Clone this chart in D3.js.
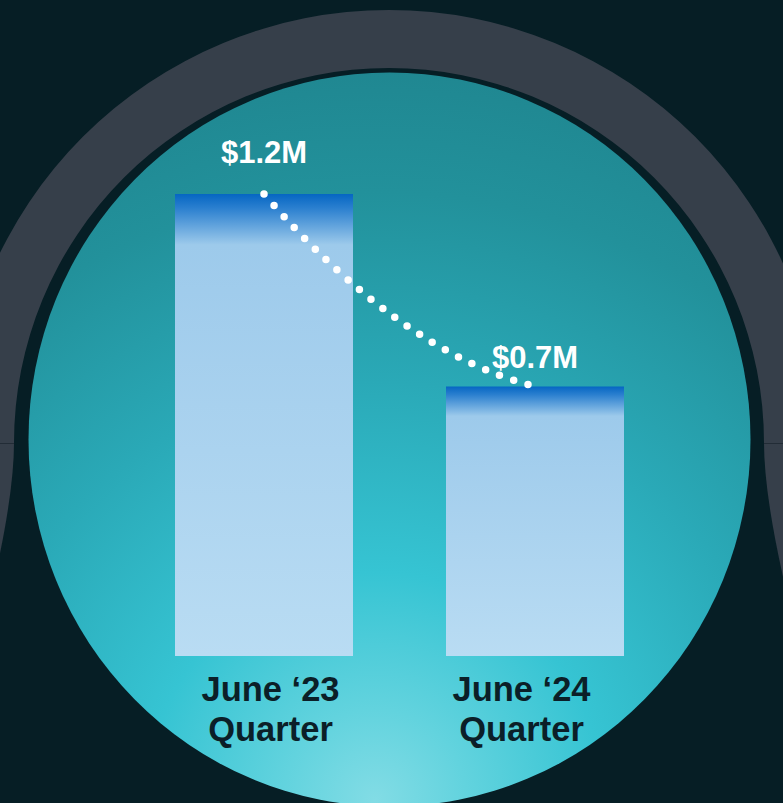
<!DOCTYPE html>
<html>
<head>
<meta charset="utf-8">
<script src="https://cdn.jsdelivr.net/npm/d3@7"></script>
<style>
  html, body { margin: 0; padding: 0; background: #061e25; overflow: hidden; }
  svg { display: block; }
</style>
</head>
<body>
<svg id="chart" width="783" height="803"></svg>
<script>
// Quarterly totals, in millions of dollars
const categories = ["June ‘23 Quarter", "June ‘24 Quarter"];
const categoryLines = [["June ‘23", "Quarter"], ["June ‘24", "Quarter"]];
const values = [1.2, 0.7];
const valueLabels = ["$1.2M", "$0.7M"];

// Layout
const W = 783, H = 803;
const plot = { left: 175, right: 624, top: 194, bottom: 656 };
const labelLift = [31, 19];        // gap between bar top and value-label baseline
const tickShift = [6.5, -13.5];    // horizontal nudge for category labels
const FONT = "'Liberation Sans', Arial, Helvetica, sans-serif";

const svg = d3.select("#chart");
const defs = svg.append("defs");

// Backdrop
svg.append("rect").attr("width", W).attr("height", H).attr("fill", "#061e25");

// Grey arch behind the disc
const arch = { cx: 389, cy: 443, r0: 375, r1: 433 };
svg.append("path")
  .attr("transform", `translate(${arch.cx},${arch.cy})`)
  .attr("d", d3.arc()({ innerRadius: arch.r0, outerRadius: arch.r1, startAngle: -Math.PI / 2, endAngle: Math.PI / 2 }))
  .attr("fill", "#363f4a");

const lx = arch.cx - arch.r0, rx = arch.cx + arch.r0;
const legL = d3.path();
legL.moveTo(-80, arch.cy); legL.lineTo(lx, arch.cy);
legL.quadraticCurveTo(lx, arch.cy + 52, lx - 22, arch.cy + 147);
legL.lineTo(-80, arch.cy + 147); legL.closePath();
const legR = d3.path();
legR.moveTo(W + 80, arch.cy); legR.lineTo(rx, arch.cy);
legR.quadraticCurveTo(rx, arch.cy + 52, rx + 22, arch.cy + 147);
legR.lineTo(W + 80, arch.cy + 147); legR.closePath();
svg.append("path").attr("d", legL.toString()).attr("fill", "#363f4a");
svg.append("path").attr("d", legR.toString()).attr("fill", "#363f4a");

svg.append("line").attr("x1", 0).attr("x2", lx).attr("y1", arch.cy + 0.5).attr("y2", arch.cy + 0.5)
  .attr("stroke", "#222c36").attr("stroke-width", 1);
svg.append("line").attr("x1", rx).attr("x2", W).attr("y1", arch.cy + 0.5).attr("y2", arch.cy + 0.5)
  .attr("stroke", "#222c36").attr("stroke-width", 1);

// Teal disc with a glow rising from the bottom
const disc = defs.append("radialGradient").attr("id", "discFill")
  .attr("gradientUnits", "userSpaceOnUse")
  .attr("cx", 375).attr("cy", 800).attr("r", 760).attr("fx", 375).attr("fy", 800);
[[0, "#82dce5"], [0.12, "#62d3de"], [0.3, "#36c4d3"], [0.55, "#2aa9b7"], [0.8, "#22919b"], [1, "#1f858f"]]
  .forEach(([o, c]) => disc.append("stop").attr("offset", o).attr("stop-color", c));
svg.append("ellipse")
  .attr("cx", 389.5).attr("cy", 439.5).attr("rx", 361).attr("ry", 367)
  .attr("fill", "url(#discFill)");

// Scales
const x = d3.scaleBand().domain(categories).range([plot.left, plot.right])
  .paddingInner(93 / 271).paddingOuter(0);
const y = d3.scaleLinear().domain([0, d3.max(values)]).range([plot.bottom, plot.top]);

// Bars
const barFill = defs.append("linearGradient").attr("id", "barFill")
  .attr("x1", 0).attr("y1", 0).attr("x2", 0).attr("y2", 1);
[[0, "#0566c3"], [0.03, "#2a7fcf"], [0.11, "#9dcaeb"], [1, "#b9dcf3"]]
  .forEach(([o, c]) => barFill.append("stop").attr("offset", o).attr("stop-color", c));

const data = categories.map((c, i) => ({ c, v: values[i], label: valueLabels[i], i }));

svg.append("g").selectAll("rect").data(data).join("rect")
  .attr("x", d => x(d.c))
  .attr("y", d => y(d.v))
  .attr("width", x.bandwidth())
  .attr("height", d => y(0) - y(d.v))
  .attr("fill", "url(#barFill)");

// Dotted trend curve from bar top to bar top
const p0 = [x(categories[0]) + x.bandwidth() / 2, y(values[0])];
const p1 = [x(categories[1]) + x.bandwidth() / 2, y(values[1])];
const trend = d3.path();
trend.moveTo(p0[0], p0[1]);
trend.quadraticCurveTo((p0[0] + p1[0]) / 2, p0[1] + 0.817 * (p1[1] - p0[1]), p1[0], p1[1]);
svg.append("path").attr("d", trend.toString())
  .attr("fill", "none").attr("stroke", "#ffffff").attr("stroke-width", 7.5)
  .attr("stroke-linecap", "round").attr("stroke-dasharray", "0 15");

// Value labels
svg.append("g").selectAll("text").data(data).join("text")
  .attr("x", d => x(d.c) + x.bandwidth() / 2)
  .attr("y", d => y(d.v) - labelLift[d.i])
  .attr("text-anchor", "middle")
  .attr("font-family", FONT).attr("font-weight", 700).attr("font-size", 31)
  .attr("fill", "#ffffff")
  .text(d => d.label);

// Category axis
const axis = svg.append("g").attr("transform", `translate(0,${plot.bottom})`)
  .call(d3.axisBottom(x).tickSize(0).tickPadding(0));
axis.select(".domain").remove();
axis.selectAll(".tick text").each(function (c) {
  const i = categories.indexOf(c);
  const t = d3.select(this);
  t.text(null).attr("dy", null).attr("y", null)
    .attr("x", tickShift[i])
    .attr("font-family", FONT).attr("font-weight", 700).attr("font-size", 34.5)
    .attr("fill", "#0b1f28").attr("text-anchor", "middle");
  categoryLines[i].forEach((line, k) => {
    t.append("tspan").attr("x", tickShift[i]).attr("y", 45 + k * 40).text(line);
  });
});
</script>
</body>
</html>
